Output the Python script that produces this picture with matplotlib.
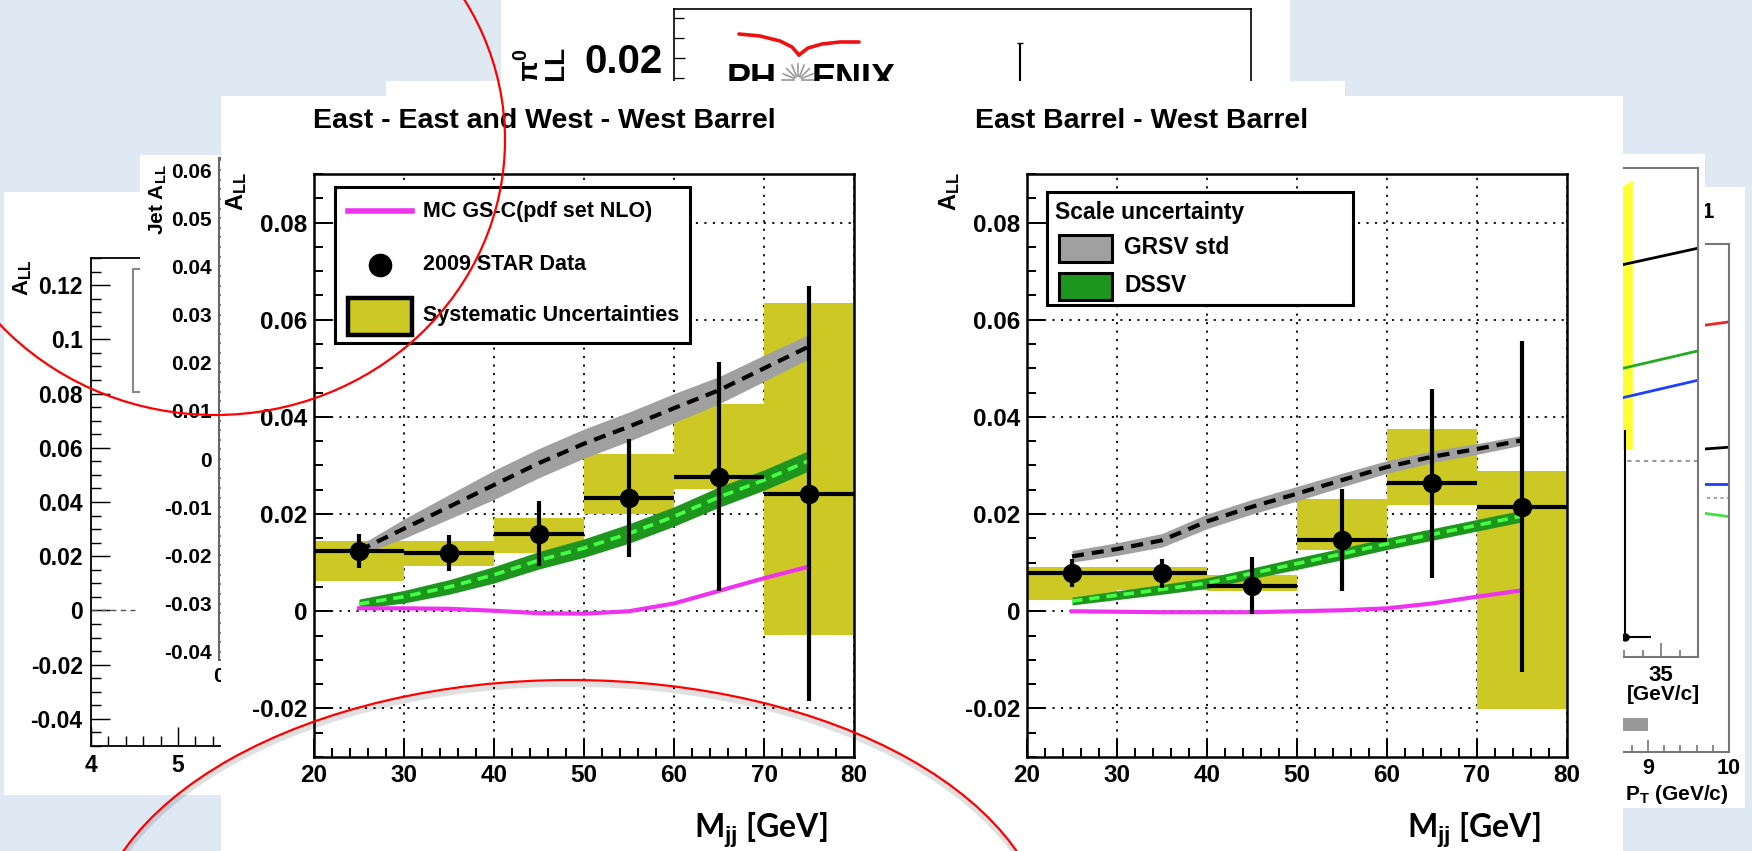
import numpy as np
import matplotlib
matplotlib.use("Agg")
import matplotlib.pyplot as plt
from matplotlib.patches import Rectangle, Ellipse
from matplotlib.lines import Line2D
from matplotlib.ticker import MultipleLocator, NullLocator, FixedLocator, FuncFormatter

plt.rcParams['font.family'] = ['Liberation Sans', 'DejaVu Sans']
plt.rcParams['font.weight'] = 'bold'
plt.rcParams['axes.unicode_minus'] = False
plt.rcParams['mathtext.fontset'] = 'custom'
plt.rcParams['mathtext.rm'] = 'Liberation Sans:bold'
plt.rcParams['mathtext.it'] = 'Liberation Sans:bold'
plt.rcParams['mathtext.bf'] = 'Liberation Sans:bold'

# ---------------- main STAR panels: A_LL vs M_jj ----------------
bin_lo = [20, 30, 40, 50, 60, 70]
bin_hi = [30, 40, 50, 60, 70, 80]
mjj = [25, 35, 45, 55, 65, 75]

# East-East + West-West barrel
eeww_all = [0.0123, 0.0120, 0.0160, 0.0233, 0.0277, 0.0242]
eeww_stat = [0.0035, 0.0037, 0.0066, 0.0121, 0.0236, 0.0427]
eeww_sys_lo = [0.0062, 0.0094, 0.0119, 0.0201, 0.0252, -0.0049]
eeww_sys_hi = [0.0144, 0.0144, 0.0191, 0.0324, 0.0427, 0.0635]

# East barrel - West barrel
ew_all = [0.0078, 0.0078, 0.0053, 0.0146, 0.0263, 0.0215]
ew_stat = [0.0029, 0.0030, 0.0058, 0.0105, 0.0195, 0.0341]
ew_sys_lo = [0.0023, 0.0043, 0.0041, 0.0127, 0.0218, -0.0201]
ew_sys_hi = [0.0092, 0.0092, 0.0074, 0.0232, 0.0375, 0.0289]

theory_mjj = [25, 30, 35, 40, 45, 50, 55, 60, 65, 70, 75]
eeww_grsv = [0.0125, 0.0170, 0.0215, 0.0260, 0.0305, 0.0345, 0.0380, 0.0418, 0.0455, 0.0500, 0.0545]
eeww_grsv_w = [0.0010, 0.0020, 0.0025, 0.0030, 0.0030, 0.0030, 0.0030, 0.0030, 0.0028, 0.0027, 0.0025]
eeww_dssv = [0.0015, 0.0030, 0.0050, 0.0075, 0.0105, 0.0130, 0.0160, 0.0195, 0.0235, 0.0270, 0.0310]
eeww_dssv_w = [0.0010, 0.0013, 0.0015, 0.0017, 0.0018, 0.0019, 0.0020, 0.0020, 0.0021, 0.0021, 0.0021]
eeww_mc = [0.0006, 0.0006, 0.0005, 0.0001, -0.0004, -0.0005, 0.0000, 0.0016, 0.0042, 0.0068, 0.0092]

ew_grsv = [0.0113, 0.0128, 0.0146, 0.0185, 0.0215, 0.0242, 0.0270, 0.0297, 0.0318, 0.0334, 0.0352]
ew_grsv_w = [0.0012, 0.0013, 0.0014, 0.0015, 0.0015, 0.0015, 0.0014, 0.0013, 0.0012, 0.0011, 0.0010]
ew_dssv = [0.0021, 0.0033, 0.0045, 0.0058, 0.0078, 0.0098, 0.0118, 0.0139, 0.0158, 0.0177, 0.0196]
ew_dssv_w = [0.0008, 0.0009, 0.0010, 0.0011, 0.0011, 0.0012, 0.0012, 0.0012, 0.0012, 0.0012, 0.0012]
ew_mc = [0.0000, -0.0001, -0.0002, -0.0002, -0.0002, 0.0000, 0.0002, 0.0006, 0.0016, 0.0030, 0.0043]

# ---------------- slides peeking out behind ----------------
phenix_pt = [8.0]
phenix_all = [0.001]
phenix_err = [0.0228]

jetpt_x = [33.05]
jetpt_all = [-0.018]
jetpt_err_lo = [0.0]
jetpt_err_hi = [0.0212]
jetpt_band_x = [32.5, 33.45]
jetpt_band_lo = [0.0013, 0.0013]
jetpt_band_hi = [0.0276, 0.0288]
jetpt_curve_x = [32.9, 37.0]
jetpt_black = [0.0201, 0.0218]
jetpt_green = [0.0095, 0.0113]
jetpt_blue = [0.0065, 0.0083]

pion_curve_x = [9.0, 10.0]
pion_red = [0.0195, 0.0208]
pion_black = [0.0053, 0.0060]
pion_blue = [0.0017, 0.0017]
pion_green = [-0.0009, -0.0022]
pion_sys_x = [8.69, 9.0]
pion_sys_lo = [-0.0275, -0.0275]
pion_sys_hi = [-0.0260, -0.0260]

YELLOW = '#cdc924'
GRAY = '#a0a0a0'
DGREEN = '#1e961e'
LGREEN = '#44ff44'
MAGENTA = '#ee33ee'

W, H = 1752, 851
fig = plt.figure(figsize=(W / 100, H / 100), dpi=100)
fig.patch.set_facecolor('#dee9f4')


def frac_rect(x0, y0, x1, y1):
    return [x0 / W, 1 - y1 / H, (x1 - x0) / W, (y1 - y0) / H]


def fig_rect(x0, y0, x1, y1, z, **kw):
    fig.add_artist(Rectangle((x0 / W, 1 - y1 / H), (x1 - x0) / W, (y1 - y0) / H,
                             transform=fig.transFigure, zorder=z, **kw))


def white(x0, y0, x1, y1, z):
    fig_rect(x0, y0, x1, y1, z, fc='white', ec='none')


def ftext(x, y, s, z, **kw):
    return fig.text(x / W, 1 - y / H, s, zorder=z, **kw)


def fig_line(xs, ys, z, **kw):
    fig.add_artist(Line2D([x / W for x in xs], [1 - y / H for y in ys],
                          transform=fig.transFigure, zorder=z, **kw))


def new_axes(x0, y0, x1, y1, z):
    ax = fig.add_axes(frac_rect(x0, y0, x1, y1))
    ax.set_zorder(z)
    ax.patch.set_alpha(0)
    return ax


def style(ax, color='black', lw=1.8, major=13, minor=6.5, fs=17, pad=5):
    for s in ax.spines.values():
        s.set_color(color)
        s.set_linewidth(lw)
    ax.tick_params(which='both', direction='in', color=color, width=lw * 0.8,
                   labelsize=fs, pad=pad, top=False, right=False)
    ax.tick_params(which='major', length=major)
    ax.tick_params(which='minor', length=minor)


fmt = FuncFormatter(lambda v, p: '0' if abs(v) < 1e-9 else f'{v:g}')

# ---- PHENIX slide (top) ----
white(501, 0, 1290, 81, 1)
ax_p = new_axes(674, 9, 1251, 86, 2)
ax_p.set_xlim(2, 12)
ax_p.set_ylim(0.03225 - 77 / 4000, 0.03225)
style(ax_p, lw=1.2, major=8, minor=7, fs=29, pad=8)
ax_p.spines['bottom'].set_visible(False)
ax_p.yaxis.set_major_locator(FixedLocator([0.02]))
ax_p.yaxis.set_minor_locator(MultipleLocator(0.005))
ax_p.yaxis.set_major_formatter(fmt)
ax_p.xaxis.set_major_locator(NullLocator())
ax_p.errorbar(phenix_pt, phenix_all, yerr=phenix_err, fmt='o', ms=6, color='black',
              lw=1.5, capsize=2)
ftext(540, 47, r'$\mathrm{A_{LL}^{\pi^0}}$', 3, rotation=90, fontsize=29,
      ha='center', va='top')
ftext(727, 63, 'PH', 3, fontsize=26, va='top', ha='left')
ftext(812, 63, 'ENIX', 3, fontsize=26, va='top', ha='left')
for ang in np.linspace(0, 2 * np.pi, 16, endpoint=False):
    fig_line([798 + 4 * np.cos(ang), 798 + 16 * np.cos(ang)],
             [80 + 4 * np.sin(ang), 80 + 16 * np.sin(ang)], 3, color='#999999', lw=1.2)
fig_line([739, 760, 780, 792, 799], [34, 36, 41, 47, 55], 3, color='#ee1111', lw=2.6,
         solid_capstyle='round')
fig_line([799, 808, 822, 840, 859], [55, 48, 44, 42, 42], 3, color='#ee1111', lw=2.6,
         solid_capstyle='round')

# ---- leftmost slide ----
white(4, 192, 230, 795, 4)
ax_l = new_axes(91, 258, 91 + 2 * 87, 746, 5)
ax_l.set_xlim(4, 6)
ax_l.set_ylim(-0.05, 0.13)
style(ax_l, lw=1.3, major=14, minor=7, fs=16.5, pad=6)
ax_l.yaxis.set_major_locator(MultipleLocator(0.02))
ax_l.yaxis.set_minor_locator(MultipleLocator(0.005))
ax_l.yaxis.set_major_formatter(fmt)
ax_l.xaxis.set_major_locator(FixedLocator([4, 5]))
ax_l.xaxis.set_minor_locator(MultipleLocator(0.2))
ax_l.plot([4, 4.5], [0, 0], color='#555555', lw=1, ls=(0, (4, 3)))
ax_l.add_patch(Rectangle((4.48, 0.0805), 2, 0.0453, fill=False, ec='#888888', lw=1.5))
ftext(23, 278, r'$\mathrm{A_{LL}}$', 6, rotation=90, fontsize=16, ha='center', va='center')

# ---- jet A_LL slide ----
white(140, 155, 230, 680, 7)
ax_j = new_axes(219, 158, 600, 660, 8)
ax_j.set_xlim(0, 10)
ax_j.set_ylim(-0.0417, 0.0625)
style(ax_j, color='#666666', lw=1.5, major=10, minor=5, fs=15, pad=5)
ax_j.yaxis.set_major_locator(MultipleLocator(0.01))
ax_j.yaxis.set_minor_locator(MultipleLocator(0.002))
ax_j.yaxis.set_major_formatter(fmt)
ax_j.xaxis.set_major_locator(FixedLocator([0]))
ax_j.xaxis.set_major_formatter(fmt)
ftext(158, 200, r'Jet $\mathrm{A_{LL}}$', 9, rotation=90, fontsize=15, ha='center', va='center')

# ---- pion pT slide (right, back) ----
white(1600, 187, 1745, 808, 10)
ax_b = new_axes(1567, 244, 1729, 752, 11)
ax_b.set_xlim(8, 10)
ax_b.set_ylim(-0.03, 0.03)
style(ax_b, color='#777777', lw=1.5, major=9, minor=5, fs=15.5, pad=4)
ax_b.xaxis.set_major_locator(FixedLocator([9, 10]))
ax_b.xaxis.set_minor_locator(MultipleLocator(0.2))
ax_b.yaxis.set_major_locator(NullLocator())
ax_b.axhline(0, color='#999999', lw=1.2, ls=(0, (2, 2)))
ax_b.plot(pion_curve_x, pion_red, color='#ee2222', lw=2)
ax_b.plot(pion_curve_x, pion_black, color='black', lw=2)
ax_b.plot(pion_curve_x, pion_blue, color='#1f3fff', lw=2)
ax_b.plot(pion_curve_x, pion_green, color='#44dd44', lw=2)
ax_b.fill_between(pion_sys_x, pion_sys_lo, pion_sys_hi, color='#999999', lw=0)
ftext(1714, 212, '1', 12, fontsize=16, ha='right', va='center')
ftext(1677, 795, r'P$_{\mathrm{T}}$ (GeV/c)', 12, fontsize=15, ha='center', va='center')

# ---- jet pT slide (right, front) ----
white(1623, 154, 1705, 710, 13)
ax_a = new_axes(1568.5, 168, 1698, 657, 14)
ax_a.set_xlim(30, 37)
ax_a.set_ylim(-0.02, 0.03)
style(ax_a, color='#777777', lw=1.5, major=10, minor=5, fs=16, pad=6)
ax_a.xaxis.set_major_locator(FixedLocator([35]))
ax_a.xaxis.set_minor_locator(MultipleLocator(1))
ax_a.yaxis.set_major_locator(NullLocator())
ax_a.fill_between(jetpt_band_x, jetpt_band_lo, jetpt_band_hi, color='#ffff33', lw=0)
ax_a.axhline(0, color='#999999', lw=1.5, ls=(0, (2, 2)))
ax_a.plot(jetpt_curve_x, jetpt_black, color='black', lw=2)
ax_a.plot(jetpt_curve_x, jetpt_green, color='#22aa22', lw=2)
ax_a.plot(jetpt_curve_x, jetpt_blue, color='#1f3fff', lw=2)
ax_a.errorbar(jetpt_x, jetpt_all, yerr=[jetpt_err_lo, jetpt_err_hi], xerr=1.4, fmt='o',
              ms=5, color='black', lw=1.5, capsize=0)
ftext(1700, 695, '[GeV/c]', 15, fontsize=15, ha='right', va='center')

# ---- main STAR slide ----
white(221, 96, 1623, 851, 16)
white(386, 81, 1345, 97, 16)


def star_panel(x0, title, title_x, vals, stat, sys_lo, sys_hi, grsv, grsv_w, dssv, dssv_w, mc):
    ax = new_axes(x0, 174, x0 + 540, 757, 17)
    ax.set_xlim(20, 80)
    ax.set_ylim(-0.03, 0.09)
    style(ax, lw=1.8, major=13, minor=6.5, fs=17.5, pad=5)
    ax.xaxis.set_major_locator(MultipleLocator(10))
    ax.xaxis.set_minor_locator(MultipleLocator(2))
    ax.yaxis.set_major_locator(MultipleLocator(0.02))
    ax.yaxis.set_minor_locator(MultipleLocator(0.005))
    ax.yaxis.set_major_formatter(fmt)
    ax.set_axisbelow(True)
    ax.grid(True, which='major', color='black', lw=1.3, ls=(0, (1.2, 3.5)))

    for lo, hi, sl, sh in zip(bin_lo, bin_hi, sys_lo, sys_hi):
        ax.add_patch(Rectangle((lo, sl), hi - lo, sh - sl, fc=YELLOW, ec='none', zorder=2))
    g, gw = np.array(grsv), np.array(grsv_w)
    d, dw = np.array(dssv), np.array(dssv_w)
    ax.fill_between(theory_mjj, g - gw, g + gw, color=GRAY, lw=0, zorder=3)
    ax.plot(theory_mjj, grsv, color='black', lw=3, dashes=(2.9, 1.9), zorder=4)
    ax.fill_between(theory_mjj, d - dw, d + dw, color=DGREEN, lw=0, zorder=5)
    ax.plot(theory_mjj, dssv, color=LGREEN, lw=2.6, dashes=(2.9, 1.9), zorder=6)
    ax.plot(theory_mjj, mc, color=MAGENTA, lw=3, zorder=7)
    ax.errorbar(mjj, vals, yerr=stat, xerr=5, fmt='o', ms=13, color='black',
                elinewidth=3, capsize=0, zorder=8)

    ftext(title_x, 121, title, 18, fontsize=20.5, ha='left', va='center')
    ftext(x0 - 77, 191, r'$\mathrm{A_{LL}}$', 18, rotation=90, fontsize=17,
          ha='center', va='center')
    ftext(x0 + 540 - 26, 830, r'M$_{\mathrm{jj}}$ [GeV]', 18, family=['Lato', 'DejaVu Sans'],
          fontsize=23, ha='right', va='center')
    return ax


star_panel(314, 'East - East and West - West Barrel', 313, eeww_all, eeww_stat, eeww_sys_lo,
           eeww_sys_hi, eeww_grsv, eeww_grsv_w, eeww_dssv, eeww_dssv_w, eeww_mc)
star_panel(1027, 'East Barrel - West Barrel', 975, ew_all, ew_stat, ew_sys_lo, ew_sys_hi,
           ew_grsv, ew_grsv_w, ew_dssv, ew_dssv_w, ew_mc)

# legend, left panel
fig_rect(335, 187, 690, 343, 19, fc='white', ec='black', lw=2.2)
fig_line([348, 412], [211, 211], 20, color=MAGENTA, lw=4)
fig_line([380], [265], 20, marker='o', ms=16, color='black', ls='none')
fig_rect(348, 298, 412, 335, 20, fc=YELLOW, ec='black', lw=3.2)
ftext(423, 211, 'MC GS-C(pdf set NLO)', 20, fontsize=15.5, va='center')
ftext(423, 265, '2009 STAR Data', 20, fontsize=15.5, va='center')
ftext(423, 316, 'Systematic Uncertainties', 20, fontsize=15.5, va='center')

# legend, right panel
fig_rect(1047, 192, 1353, 305, 19, fc='white', ec='black', lw=2.2)
ftext(1055, 212, 'Scale uncertainty', 20, fontsize=16.5, va='center')
fig_rect(1059, 235, 1112, 262, 20, fc=GRAY, ec='black', lw=2.2)
ftext(1124, 248, 'GRSV std', 20, fontsize=16.5, va='center')
fig_rect(1059, 273, 1112, 300, 20, fc=DGREEN, ec='black', lw=2.2)
ftext(1124, 286, 'DSSV', 20, fontsize=16.5, va='center')

# red circles drawn over the slide
fig.add_artist(Ellipse((570 / W, 1 - 954 / H), 960 / W, 540 / H, transform=fig.transFigure,
                       fill=False, ec='#000000', alpha=0.12, lw=4, zorder=29))
for cx, cy, a, b in [(215, 140, 290, 275), (570, 950, 480, 270)]:
    fig.add_artist(Ellipse((cx / W, 1 - cy / H), 2 * a / W, 2 * b / H,
                           transform=fig.transFigure, fill=False, ec='red', lw=1.6, zorder=30))

fig.savefig('out.png', dpi=100)
